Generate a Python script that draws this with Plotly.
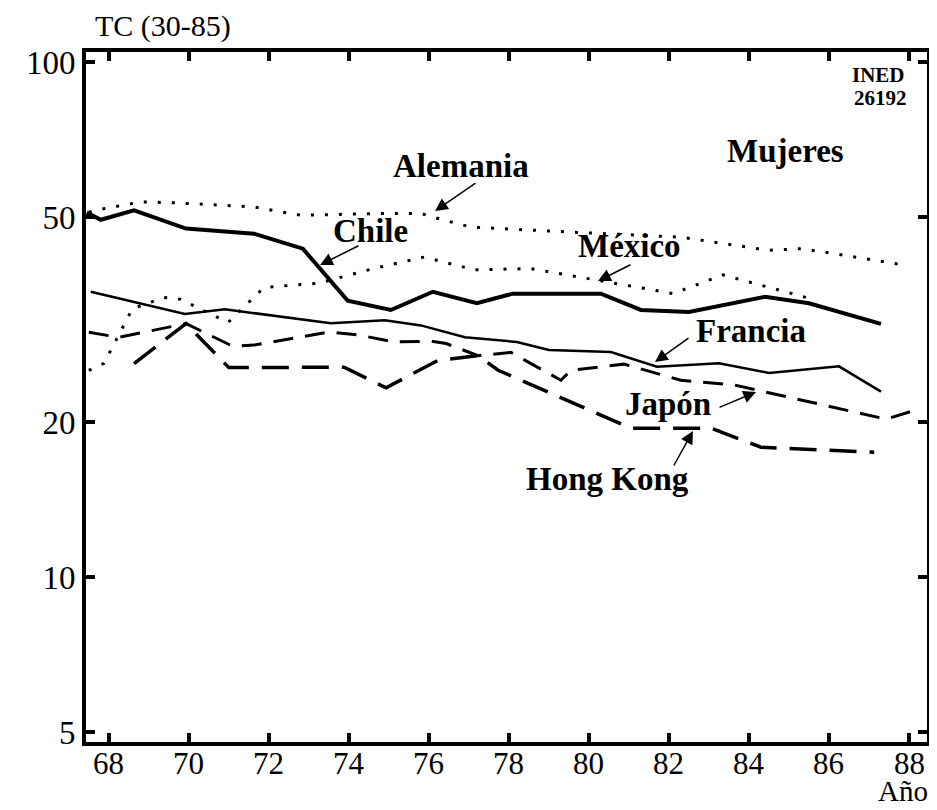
import math
import plotly.graph_objects as go

# ---- data (years, values) ----
alemania_x = [67.5, 67.75, 68.8, 69.63, 71.63, 72.8, 74.8, 75.8, 76.3, 77.05, 79.55, 82.3, 84.48, 85.3, 85.85, 87.93]
alemania_y = [51.1, 51.7, 53.5, 53.3, 52.3, 50.4, 50.8, 50.8, 49.5, 47.8, 46.75, 45.7, 43.1, 43.4, 42.8, 40.3]

chile_x = [67.45, 67.8, 68.63, 69.93, 71.63, 72.85, 73.97, 75.05, 76.1, 77.2, 78.1, 80.3, 81.3, 82.5, 84.4, 85.5, 87.3]
chile_y = [51.0, 49.4, 51.5, 47.5, 46.4, 43.4, 34.4, 33.0, 35.8, 34.0, 35.5, 35.5, 33.0, 32.7, 35.0, 34.0, 31.0]

mexico_x = [67.5, 67.88, 68.59, 69.38, 69.8, 70.98, 71.88, 73.25, 74.55, 75.88, 77.13, 78.55, 81.68, 82.1, 83.35, 85.55]
mexico_y = [25.2, 26.0, 33.2, 34.9, 34.6, 31.2, 36.5, 37.2, 39.6, 41.8, 39.5, 39.7, 36.0, 35.5, 38.6, 34.7]

francia_x = [67.55, 69.9, 70.9, 73.55, 74.9, 75.8, 76.9, 78.2, 79.0, 80.55, 81.7, 83.25, 84.5, 86.25, 87.3]
francia_y = [35.8, 32.4, 33.1, 31.1, 31.5, 30.8, 29.2, 28.6, 27.6, 27.35, 25.6, 26.0, 24.9, 25.65, 22.9]

japon_x = [67.5, 68.25, 69.93, 71.1, 71.63, 73.5, 74.25, 75.13, 76.05, 76.43, 77.23, 78.05, 79.3, 79.55, 80.88, 82.3, 83.63, 87.43, 88.25]
japon_y = [29.86, 29.2, 31.05, 28.05, 28.2, 29.9, 29.5, 28.6, 28.7, 28.4, 26.9, 27.3, 24.1, 25.2, 25.9, 24.1, 23.6, 20.25, 21.2]

hongkong_x = [68.63, 69.93, 71.0, 73.88, 74.93, 76.23, 77.23, 77.73, 81.05, 83.05, 84.3, 87.13]
hongkong_y = [25.97, 31.05, 25.5, 25.55, 23.3, 26.35, 26.9, 25.2, 19.45, 19.45, 17.86, 17.47]

x_ticks = [68, 70, 72, 74, 76, 78, 80, 82, 84, 86, 88]
y_ticks = [5, 10, 20, 50, 100]

# ---- layout geometry (page body has an 8px margin) ----
OFF = 8
W, H = 937 - OFF, 810 - OFF
L, R, T, B = 86 - OFF, 927 - OFF, 52 - OFF, 742 - OFF
XR = [67.43, 88.45]
YR = [math.log10(4.78), math.log10(104.6)]
FONT = "Liberation Serif, Times New Roman, serif"


def px(xp):
    # reference-picture pixel -> paper fraction
    return (xp - OFF - L) / (R - L)


def py(yp):
    return (B - (yp - OFF)) / (B - T)


fig = go.Figure()

series = [
    ("Alemania", alemania_x, alemania_y, dict(color="black", width=3, dash="3px,11px")),
    ("México", mexico_x, mexico_y, dict(color="black", width=3, dash="3px,11px")),
    ("Chile", chile_x, chile_y, dict(color="black", width=4)),
    ("Francia", francia_x, francia_y, dict(color="black", width=2.5)),
    ("Japón", japon_x, japon_y, dict(color="black", width=3, dash="20px,12px")),
    ("Hong Kong", hongkong_x, hongkong_y, dict(color="black", width=3.5, dash="27px,13px")),
]
for name, xs, ys, ln in series:
    fig.add_trace(go.Scatter(x=xs, y=ys, mode="lines", name=name, line=ln,
                             showlegend=False, cliponaxis=True))

annotations = []

labels = [
    ("Alemania", 461, 166),
    ("Chile", 370, 231),
    ("México", 629, 246),
    ("Mujeres", 785, 151),
    ("Francia", 751, 331),
    ("Japón", 668, 404),
    ("Hong Kong", 607, 479),
]
for txt, xp, yp in labels:
    annotations.append(dict(text="<b>%s</b>" % txt, x=px(xp), y=py(yp), xref="paper", yref="paper",
                            showarrow=False, xanchor="center", yanchor="middle",
                            font=dict(family=FONT, size=33, color="black")))

annotations.append(dict(text="<b>INED</b>", x=px(906), y=py(75), xref="paper", yref="paper",
                        showarrow=False, xanchor="right", yanchor="middle", borderpad=0,
                        font=dict(family=FONT, size=21, color="black")))
annotations.append(dict(text="<b>26192</b>", x=px(908), y=py(98), xref="paper", yref="paper",
                        showarrow=False, xanchor="right", yanchor="middle", borderpad=0,
                        font=dict(family=FONT, size=21, color="black")))
annotations.append(dict(text="TC (30-85)", x=px(94), y=py(OFF), xref="paper", yref="paper",
                        showarrow=False, xanchor="left", yanchor="top", borderpad=0,
                        font=dict(family=FONT, size=30, color="black")))
annotations.append(dict(text="Año", x=px(929), y=py(808), xref="paper", yref="paper",
                        showarrow=False, xanchor="right", yanchor="bottom", borderpad=0,
                        font=dict(family=FONT, size=29, color="black")))

# x tick labels placed at the axis values
for v in x_ticks:
    annotations.append(dict(text=str(v), x=v, xref="x", y=py(763), yref="paper",
                            showarrow=False, xanchor="center", yanchor="middle", borderpad=0,
                            font=dict(family=FONT, size=31, color="black")))

# arrows: (tip_px, tail_px) in reference pixels
arrows = [
    ((435, 211), (477, 182)),
    ((320, 265), (360, 245)),
    ((598, 281), (632, 264)),
    ((655, 362), (690, 337)),
    ((756, 392), (718, 408)),
    ((693, 431), (673, 467)),
]
for (hx, hy), (tx, ty) in arrows:
    annotations.append(dict(text="", x=px(hx), y=py(hy), xref="paper", yref="paper",
                            ax=tx - hx, ay=ty - hy, axref="pixel", ayref="pixel",
                            showarrow=True, arrowhead=2, arrowsize=1.7, arrowwidth=1.5,
                            arrowcolor="black", standoff=0, startstandoff=0))

fig.update_layout(
    width=W, height=H,
    margin=dict(l=L, r=W - R, t=T, b=H - B, pad=0),
    paper_bgcolor="white", plot_bgcolor="white",
    font=dict(family=FONT, size=33, color="black"),
    annotations=annotations,
    showlegend=False,
)
fig.update_xaxes(range=XR, tickvals=x_ticks, showticklabels=False,
                 ticks="inside", ticklen=9, tickwidth=4, tickcolor="black",
                 showline=True, linewidth=4, linecolor="black", mirror="allticks",
                 showgrid=False, zeroline=False, automargin=False)
fig.update_yaxes(type="log", range=YR, tickvals=y_ticks, ticktext=[str(v) for v in y_ticks],
                 ticks="inside", ticklen=9, tickwidth=4, tickcolor="black",
                 showline=True, linewidth=4, linecolor="black", mirror="allticks",
                 showgrid=False, zeroline=False, tickfont=dict(family=FONT, size=33),
                 automargin=False)

fig.write_html("out.html")
